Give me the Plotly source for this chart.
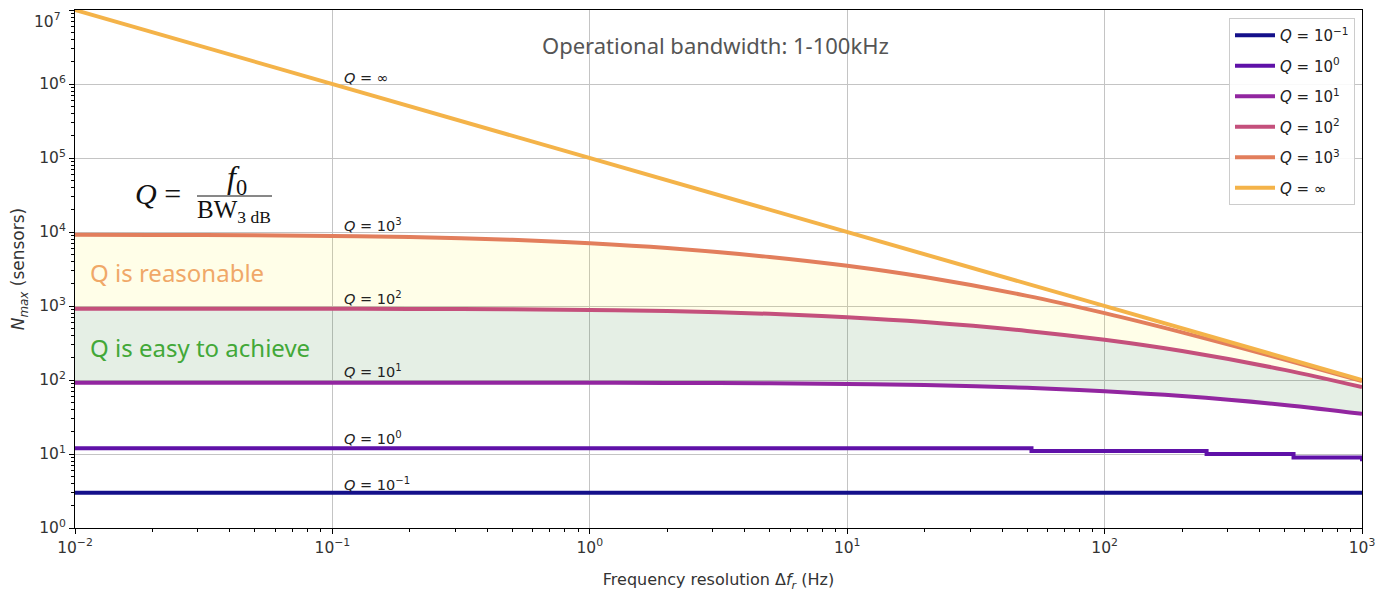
import plotly.graph_objects as go

# ---- data ----
delta_f = [0.01, 0.02, 0.05, 0.1, 0.2, 0.5, 1, 2, 5, 10, 20, 50, 100, 200, 500, 1000]
n_q1000 = [9170, 9130, 9020, 8850, 8550, 7840, 7050, 6070, 4600, 3490, 2460, 1370, 800, 440, 189, 97]
n_q100 = [921, 920, 919, 917, 913, 902, 885, 855, 784, 705, 607, 461, 349, 246, 137, 80]
n_q10 = [92.1, 92.1, 92.1, 92.1, 92.0, 91.9, 91.7, 91.3, 90.2, 88.5, 85.5, 78.4, 70.5, 60.7, 46.1, 34.9]
df_q1 = [0.01, 52, 249, 542, 1000]
n_q1 = [12, 11, 10, 9, 8]
df_q01 = [0.01, 1000]
n_q01 = [3, 3]
df_inf = [0.01, 1000]
n_inf = [1e7, 100]

x_tickvals = [0.01, 0.1, 1, 10, 100, 1000]
x_ticktext = ["10<sup>−2</sup>", "10<sup>−1</sup>", "10<sup>0</sup>", "10<sup>1</sup>", "10<sup>2</sup>", "10<sup>3</sup>"]
y_tickvals = [1, 10, 100, 1e3, 1e4, 1e5, 1e6, 1e7]
y_ticktext = ["10<sup>0</sup>", "10<sup>1</sup>", "10<sup>2</sup>", "10<sup>3</sup>", "10<sup>4</sup>",
              "10<sup>5</sup>", "10<sup>6</sup>", "10<sup>7</sup>"]

legend_names = ["<i>Q</i> = 10<sup>−1</sup>", "<i>Q</i> = 10<sup>0</sup>", "<i>Q</i> = 10<sup>1</sup>",
                "<i>Q</i> = 10<sup>2</sup>", "<i>Q</i> = 10<sup>3</sup>", "<i>Q</i> = ∞"]
colors = ["#14108a", "#5f11a8", "#9226a0", "#c4507c", "#e27e5c", "#f4b349"]

# ---- layout geometry (page pixels; page body has an 8px margin) ----
OFF = 8
W, H = 1393 - OFF, 595 - OFF
L, R, T, B = 75, 1362, 10, 528   # plot area in page pixels


def P(px, py):
    return (px - L) / (R - L), 1 - (py - T) / (B - T)


fig = go.Figure()

# fills (no legend)
fig.add_trace(go.Scatter(x=delta_f, y=n_q10, mode="lines", line=dict(width=0, shape="spline"),
                         showlegend=False, hoverinfo="skip"))
fig.add_trace(go.Scatter(x=delta_f, y=n_q100, mode="lines", line=dict(width=0, shape="spline"),
                         fill="tonexty", fillcolor="rgba(0,100,0,0.1)", showlegend=False, hoverinfo="skip"))
fig.add_trace(go.Scatter(x=delta_f, y=n_q1000, mode="lines", line=dict(width=0, shape="spline"),
                         fill="tonexty", fillcolor="rgba(255,240,0,0.09)", showlegend=False, hoverinfo="skip"))

series = [
    (df_q01, n_q01, "linear"),
    (df_q1, n_q1, "hv"),
    (delta_f, n_q10, "spline"),
    (delta_f, n_q100, "spline"),
    (delta_f, n_q1000, "spline"),
    (df_inf, n_inf, "linear"),
]
for i, (xs, ys, shp) in enumerate(series):
    fig.add_trace(go.Scatter(x=xs, y=ys, mode="lines", name=legend_names[i], legendgroup=f"g{i}",
                             line=dict(color=colors[i], width=4, shape=shp)))

annotations = []
# curve labels
label_pos = [(484, legend_names[0]), (438, legend_names[1]), (371, legend_names[2]),
             (298, legend_names[3]), (225, legend_names[4]), (78, legend_names[5])]
for py, txt in label_pos:
    x, y = P(342, py)
    annotations.append(dict(x=x, y=y, xref="paper", yref="paper", text=txt, showarrow=False,
                            xanchor="left", yanchor="middle",
                            font=dict(family="DejaVu Sans", size=14.5, color="#222")))

# top y tick label drawn just inside the page so it is not clipped
x, y = P(63, 8)
annotations.append(dict(x=x, y=y, xref="paper", yref="paper", text=y_ticktext[-1], showarrow=False,
                        xanchor="right", yanchor="top", font=dict(family="DejaVu Sans", size=15.5, color="#333")))

x, y = P(715, 45)
annotations.append(dict(x=x, y=y, xref="paper", yref="paper", text="Operational bandwidth: 1-100kHz",
                        showarrow=False, xanchor="center", yanchor="middle",
                        font=dict(family="Noto Sans", size=22, color="#555")))
x, y = P(88, 272)
annotations.append(dict(x=x, y=y, xref="paper", yref="paper", text="Q is reasonable",
                        showarrow=False, xanchor="left", yanchor="middle",
                        font=dict(family="Noto Sans", size=24, color="#f0a868")))
x, y = P(88, 347)
annotations.append(dict(x=x, y=y, xref="paper", yref="paper", text="Q is easy to achieve",
                        showarrow=False, xanchor="left", yanchor="middle",
                        font=dict(family="Noto Sans", size=24, color="#42a838")))

# formula Q = f0 / BW_3dB
serif = "Liberation Serif"
x, y = P(158, 193)
annotations.append(dict(x=x, y=y, xref="paper", yref="paper", text="<i>Q</i> =", showarrow=False,
                        xanchor="center", yanchor="middle", font=dict(family=serif, size=30, color="#111")))
x, y = P(237, 179)
annotations.append(dict(x=x, y=y, xref="paper", yref="paper", text="<i>f</i><sub>0</sub>", showarrow=False,
                        xanchor="center", yanchor="middle", font=dict(family=serif, size=32, color="#111")))
x, y = P(234, 211)
annotations.append(dict(x=x, y=y, xref="paper", yref="paper", text="BW<sub>3 dB</sub>", showarrow=False,
                        xanchor="center", yanchor="middle", font=dict(family=serif, size=25, color="#111")))
x0, y0 = P(197, 196)
x1, _ = P(272, 196)
shapes = [dict(type="line", xref="paper", yref="paper", x0=x0, x1=x1, y0=y0, y1=y0,
               line=dict(color="#111", width=1))]

lx, ly = P(1355, 18)
fig.update_layout(
    width=W, height=H,
    margin=dict(l=L - OFF, r=W - (R - OFF), t=T - OFF, b=H - (B - OFF), autoexpand=False),
    paper_bgcolor="white", plot_bgcolor="white",
    font=dict(family="DejaVu Sans", size=14, color="#333"),
    annotations=annotations, shapes=shapes,
    legend=dict(x=lx, y=ly, xanchor="right", yanchor="top", bgcolor="rgba(255,255,255,0.9)",
                bordercolor="#cccccc", borderwidth=1, font=dict(family="DejaVu Sans", size=15, color="#222"),
                tracegroupgap=8, itemwidth=40),
    showlegend=True,
)
fig.update_xaxes(type="log", range=[-2, 3], tickvals=x_tickvals, ticktext=x_ticktext,
                 showgrid=True, gridcolor="#c4c4c4", gridwidth=1,
                 showline=True, linecolor="black", linewidth=1, mirror=True,
                 ticks="outside", ticklen=5, tickcolor="black", automargin=False,
                 tickfont=dict(size=15.5),
                 minor=dict(ticks="outside", ticklen=3, tickcolor="black", dtick="D1", showgrid=False),
                 title=dict(text="Frequency resolution Δ<i>f<sub>r</sub></i> (Hz)", standoff=18,
                            font=dict(size=16)),
                 zeroline=False)
fig.update_yaxes(type="log", range=[0, 7], tickvals=y_tickvals, ticktext=y_ticktext[:-1] + [""],
                 showgrid=True, gridcolor="#c4c4c4", gridwidth=1,
                 showline=True, linecolor="black", linewidth=1, mirror=True,
                 ticks="outside", ticklen=5, tickcolor="black", automargin=False,
                 tickfont=dict(size=15.5),
                 minor=dict(ticks="outside", ticklen=3, tickcolor="black", dtick="D1", showgrid=False),
                 title=dict(text="<i>N<sub>max</sub></i> (sensors)", standoff=19, font=dict(size=17)),
                 zeroline=False)

fig.write_html("out.html")
